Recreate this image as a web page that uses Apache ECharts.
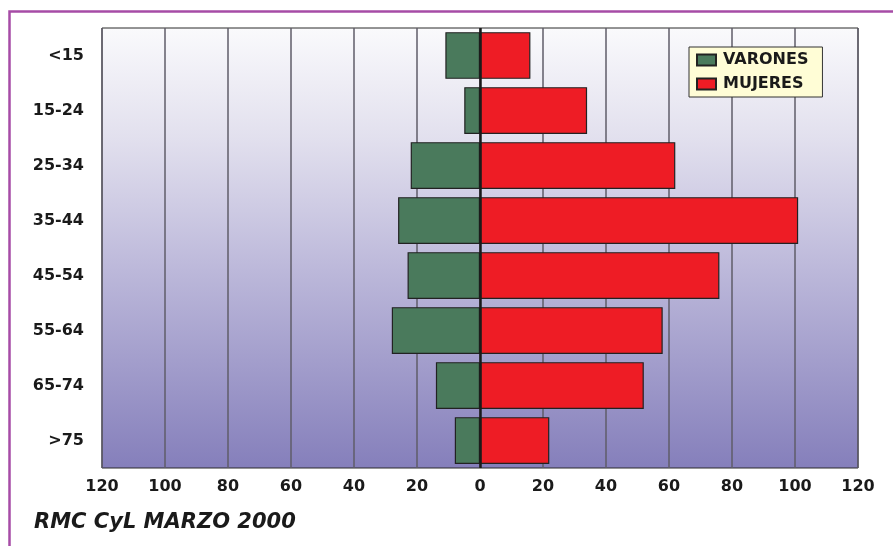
<!DOCTYPE html>
<html>
<head>
<meta charset="utf-8">
<script src="https://cdn.jsdelivr.net/npm/echarts@6/dist/echarts.min.js"></script>
<style>
  html, body { margin: 0; padding: 0; background: #ffffff; }
  #chart { width: 893px; height: 546px; }
</style>
</head>
<body>
<div id="chart"></div>
<script>
// Age groups, youngest at the top
const categories = ['<15', '15-24', '25-34', '35-44', '45-54', '55-64', '65-74', '>75'];
// Men drawn to the left of zero, women to the right
const varones = [11, 5, 22, 26, 23, 28, 14, 8];
const mujeres = [16, 34, 62, 101, 76, 58, 52, 22];
const axisTicks = [-120, -100, -80, -60, -40, -20, 0, 20, 40, 60, 80, 100, 120];

const FONT = '"DejaVu Sans", Arial, sans-serif';

const chart = echarts.init(document.getElementById('chart'), null, { renderer: 'canvas' });

chart.setOption({
  animation: false,
  backgroundColor: '#ffffff',
  graphic: [{
    type: 'rect',
    left: 7, top: 9,
    shape: { width: 1000, height: 1000 },
    style: { fill: 'none', stroke: '#a64ca6', lineWidth: 2.5 },
    silent: true
  }, {
    type: 'text',
    left: 34, top: 512,
    style: {
      text: 'RMC CyL MARZO 2000',
      font: 'italic bold 21px ' + FONT,
      fill: '#1a1a1a'
    }
  }],
  grid: {
    left: 102, right: 35, top: 28, bottom: 78,
    show: true,
    borderColor: '#2b2b2b',
    borderWidth: 1,
    backgroundColor: {
      type: 'linear', x: 0, y: 0, x2: 0, y2: 1,
      colorStops: [
        { offset: 0, color: '#fafafc' },
        { offset: 0.25, color: '#e2e0ee' },
        { offset: 0.55, color: '#bcb8da' },
        { offset: 1, color: '#857fbb' }
      ]
    }
  },
  legend: {
    orient: 'vertical',
    left: 689, top: 47,
    padding: [5, 14, 5, 7],
    itemGap: 8,
    itemWidth: 19,
    itemHeight: 11,
    icon: 'rect',
    backgroundColor: '#fffdd6',
    borderColor: '#333333',
    borderWidth: 1,
    textStyle: { fontFamily: FONT, fontWeight: 'bold', fontSize: 16, color: '#1a1a1a', lineHeight: 16, padding: [0, 0, 0, 2] },
    data: ['VARONES', 'MUJERES']
  },
  xAxis: {
    type: 'value',
    min: axisTicks[0],
    max: axisTicks[axisTicks.length - 1],
    interval: 20,
    axisLine: { show: false },
    axisTick: { show: false },
    axisLabel: {
      margin: 11,
      fontFamily: FONT, fontWeight: 'bold', fontSize: 16, color: '#1a1a1a',
      formatter: v => String(Math.abs(v))
    },
    splitLine: { show: true, lineStyle: { color: '#5f5d68', width: 1.5 } }
  },
  yAxis: {
    type: 'category',
    inverse: true,
    data: categories,
    axisLine: { show: false },
    axisTick: { show: false },
    axisLabel: {
      margin: 18,
      fontFamily: FONT, fontWeight: 'bold', fontSize: 16, color: '#1a1a1a'
    }
  },
  series: [{
    name: 'VARONES',
    type: 'bar',
    data: varones.map(v => -v),
    barCategoryGap: '15%',
    barGap: '-100%',
    itemStyle: { color: '#4a7a5c', borderColor: '#222222', borderWidth: 1.2 },
    markLine: {
      silent: true,
      symbol: 'none',
      label: { show: false },
      lineStyle: { color: '#1a1a1a', width: 2.5, type: 'solid' },
      data: [{ xAxis: 0 }]
    }
  }, {
    name: 'MUJERES',
    type: 'bar',
    data: mujeres,
    barCategoryGap: '15%',
    barGap: '-100%',
    itemStyle: { color: '#ee1c25', borderColor: '#222222', borderWidth: 1.2 }
  }]
});
</script>
</body>
</html>
